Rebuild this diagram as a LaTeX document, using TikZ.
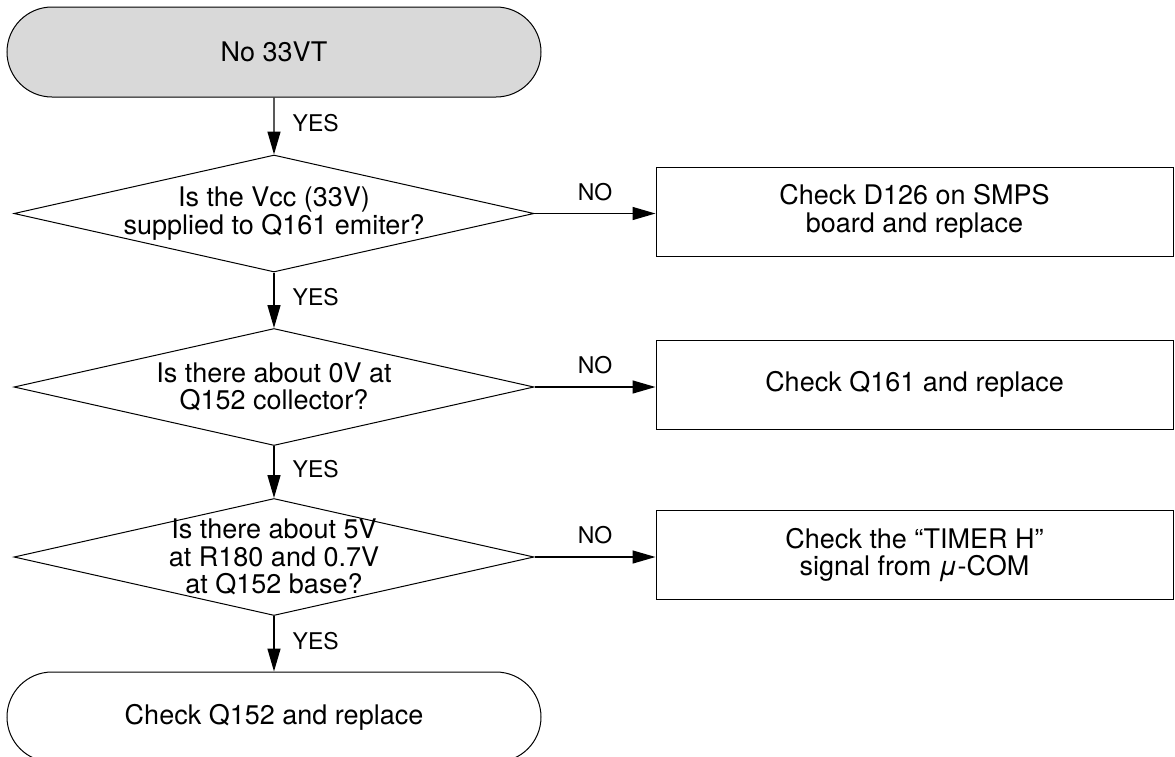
\documentclass[tikz,border=0pt]{standalone}
\usepackage{fontspec}
\setmainfont{TeX Gyre Heros}
\usepackage{tikz}
\usetikzlibrary{shapes}
\usetikzlibrary{positioning}
\usetikzlibrary{arrows.meta}

\tikzset{
  flowtext/.style={font=\fontsize{27}{27.5}\selectfont, align=center, inner sep=0pt},
  terminal/.style={draw, rounded rectangle, minimum width=534pt, minimum height=90pt, line width=1pt, flowtext},
  decision/.style={draw, diamond, minimum width=520pt, minimum height=117pt, inner sep=0pt, line width=1pt},
  checkbox/.style={draw, rectangle, minimum width=517pt, minimum height=89pt, line width=1pt, flowtext},
  flowarrow/.style={-{Triangle[length=23pt,width=13pt]}, line width=1.4pt},
  answer/.style={font=\fontsize{23}{23}\selectfont, inner sep=0pt},
}

\begin{document}
\begin{tikzpicture}[x=1pt,y=-1pt]
\useasboundingbox (0,0) rectangle (1175,756);
\node[terminal, fill=gray!30] (start) at (274,52) {No 33VT};
\node[decision] (d1) at (274,213.5) {};
\node[flowtext] (q1) at (d1) {Is the Vcc (33V)\\supplied to Q161 emiter?};
\node[decision] (d2) at (274,387) {};
\node[flowtext] (q2) at (d2) {Is there about 0V at\\Q152 collector?};
\node[decision] (d3) at (274,557) {};
\node[flowtext] (q3) at (d3) {Is there about 5V\\at R180 and 0.7V\\at Q152 base?};
\node[terminal] (stop) at (274,717) {Check Q152 and replace};
% right column
\node[checkbox] (b1) at (914.5,211.5) {Check D126 on SMPS\\board and replace};
\node[checkbox] (b2) at (914.5,384.5) {Check Q161 and replace};
\node[checkbox] (b3) at (914.5,555) {Check the “TIMER H”\\signal from \textit{μ}-COM};
% yes branch
\draw[flowarrow] (start) -- (d1) node[answer, pos=0.45, right=18pt] {YES};
\draw[flowarrow] (d1) -- (d2) node[answer, pos=0.45, right=18pt] {YES};
\draw[flowarrow] (d2) -- (d3) node[answer, pos=0.45, right=18pt] {YES};
\draw[flowarrow] (d3) -- (stop) node[answer, pos=0.45, right=18pt] {YES};
% no branch
\draw[flowarrow] (d1.east) -- (d1.east -| b1.west) node[answer, midway, above=12pt] {NO};
\draw[flowarrow] (d2.east) -- (d2.east -| b2.west) node[answer, midway, above=12pt] {NO};
\draw[flowarrow] (d3.east) -- (d3.east -| b3.west) node[answer, midway, above=12pt] {NO};
\end{tikzpicture}
\end{document}
